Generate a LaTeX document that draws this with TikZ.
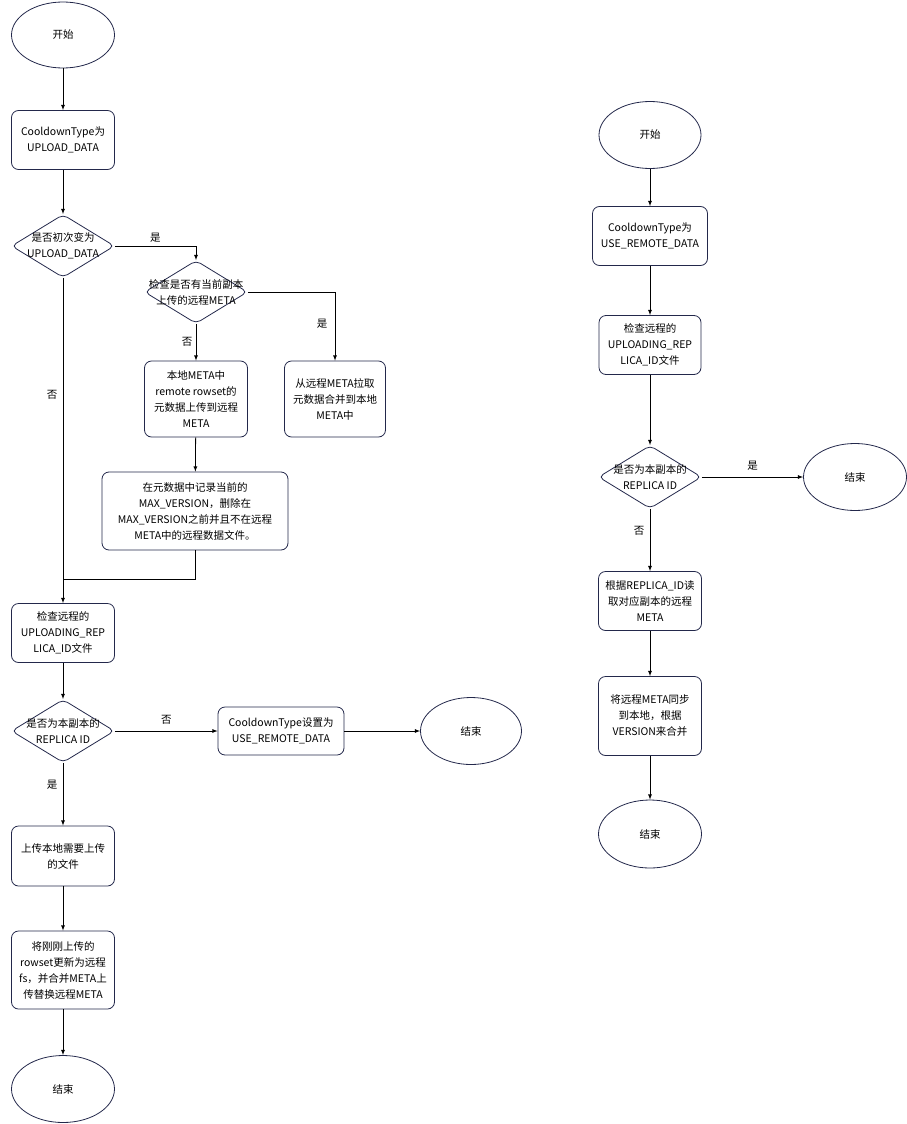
\documentclass[tikz,border=0pt]{standalone}
\usepackage{fontspec}
\setmainfont{Noto Sans CJK SC}
\usepackage{tikz}
\usetikzlibrary{arrows,shapes.geometric,positioning}
\definecolor{edgeblue}{RGB}{35,40,75}

\tikzset{
  startend/.style={ellipse,draw=edgeblue,line width=0.8pt,minimum width=103pt,minimum height=66pt,inner sep=0pt},
  procbox/.style={rectangle,rounded corners=7pt,draw=edgeblue,line width=0.8pt,align=center,inner sep=0pt},
  decide/.style={diamond,rounded corners=5pt,draw=edgeblue,line width=0.8pt,minimum width=103pt,minimum height=63pt,inner sep=0pt},
  flow/.style={->,>=latex,line width=0.8pt}
}

\begin{document}
\begin{tikzpicture}[x=1pt,y=-1pt,font=\fontsize{10.5}{16}\selectfont]
  \useasboundingbox (0,0) rectangle (907,1124);
  % left
  \path ( 63,  35) node[startend] (start) {开始}
        ( 63, 140) node[procbox,minimum width=103pt,minimum height=59pt] (upload) {CooldownType为\\UPLOAD\_DATA}
        ( 63, 246) node[decide,label={[align=center]center:是否初次变为\\UPLOAD\_DATA}] (first) {}
        (196, 292) node[decide,label={[align=center]center:检查是否有当前副本\\上传的远程META}] (hasmeta) {}
        (335, 399) node[procbox,minimum width=101pt,minimum height=76pt] (pull) {从远程META拉取\\元数据合并到本地\\META中}
        (196, 399) node[procbox,minimum width=103pt,minimum height=76pt] (push) {本地META中\\remote rowset的\\元数据上传到远程\\META}
        (195, 511) node[procbox,minimum width=186pt,minimum height=78pt] (record) {在元数据中记录当前的\\MAX\_VERSION，删除在\\MAX\_VERSION之前并且不在远程\\META中的远程数据文件。}
        ( 63, 633) node[procbox,minimum width=103pt,minimum height=59pt] (check) {检查远程的\\UPLOADING\_REP\\LICA\_ID文件}
        ( 63, 731) node[decide,label={[align=center]center:是否为本副本的\\REPLICA ID}] (mine) {}
        (281, 731) node[procbox,minimum width=126pt,minimum height=48pt] (setremote) {CooldownType设置为\\USE\_REMOTE\_DATA}
        (471, 731) node[startend,minimum width=101pt,minimum height=67pt] (stopa) {结束}
        ( 63, 856) node[procbox,minimum width=103pt,minimum height=60pt] (uploadfiles) {上传本地需要上传\\的文件}
        ( 63, 970) node[procbox,minimum width=103pt,minimum height=78pt] (replace) {将刚刚上传的\\rowset更新为远程\\fs，并合并META上\\传替换远程META}
        ( 63,1089) node[startend,minimum height=67pt] (stopb) {结束};
  \coordinate (join) at (63,579);
  \draw [flow] (start) to (upload);
  \draw [flow] (upload) to (first);
  \draw [flow] (first.east) -| node[pos=0.25,above] (yesa) {是} (hasmeta.north);
  \draw [flow] (hasmeta.east) -| node[pos=0.73,left=4pt] (yesb) {是} (pull.north);
  \draw [flow] (hasmeta.south) to node[midway,left] (nob) {否} (push.north);
  \draw [flow] (push) to (record);
  \draw (record.south) |- (join);
  \draw [flow] (first.south) to node[pos=0.36,left=2pt] (noa) {否} (check.north);
  \draw [flow] (check) to (mine);
  \draw [flow] (mine.east) to node[midway,above=3pt] (noc) {否} (setremote.west);
  \draw [flow] (setremote) to (stopa);
  \draw [flow] (mine.south) to node[pos=0.35,left=2pt] (yesc) {是} (uploadfiles.north);
  \draw [flow] (uploadfiles) to (replace);
  \draw [flow] (replace) to (stopb);
  % right
  \path (650, 135) node[startend,minimum width=102pt,minimum height=67pt] (startr) {开始}
        (650, 236) node[procbox,minimum width=115pt,minimum height=59pt] (useremote) {CooldownType为\\USE\_REMOTE\_DATA}
        (650, 345) node[procbox,minimum width=102pt,minimum height=59pt] (checkr) {检查远程的\\UPLOADING\_REP\\LICA\_ID文件}
        (650, 477) node[decide,label={[align=center]center:是否为本副本的\\REPLICA ID}] (miner) {}
        (855, 477) node[startend,minimum height=67pt] (stopc) {结束}
        (650, 601) node[procbox,minimum width=103pt,minimum height=59pt] (readmeta) {根据REPLICA\_ID读\\取对应副本的远程\\META}
        (650, 716) node[procbox,minimum width=103pt,minimum height=79pt] (syncmeta) {将远程META同步\\到本地，根据\\VERSION来合并}
        (650, 834) node[startend,minimum width=103pt,minimum height=68pt] (stopd) {结束};
  \draw [flow] (startr) to (useremote);
  \draw [flow] (useremote) to (checkr);
  \draw [flow] (checkr) to (miner);
  \draw [flow] (miner.east) to node[midway,above=3pt] (yesr) {是} (stopc.west);
  \draw [flow] (miner.south) to node[pos=0.35,left=2pt] (nor) {否} (readmeta.north);
  \draw [flow] (readmeta) to (syncmeta);
  \draw [flow] (syncmeta) to (stopd);
\end{tikzpicture}
\end{document}
